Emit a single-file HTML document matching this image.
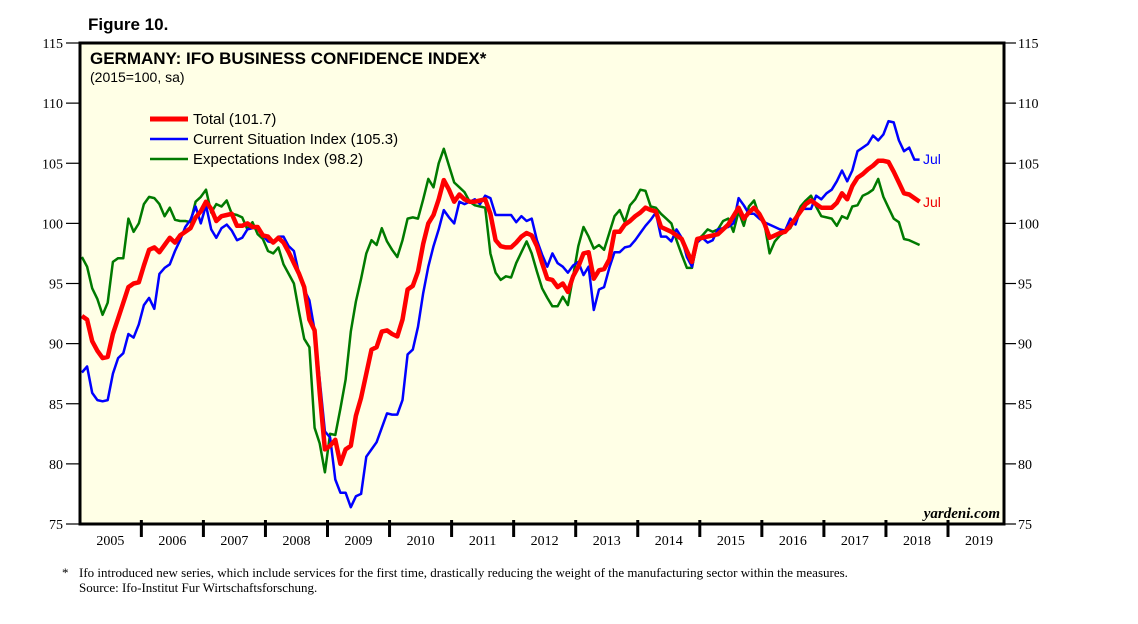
<!DOCTYPE html>
<html><head><meta charset="utf-8"><style>
body{margin:0;background:#fff;}
svg{display:block;}
</style></head><body>
<svg id="chart" width="1138" height="624" xmlns="http://www.w3.org/2000/svg">
<text x="88" y="30" font-family="Liberation Sans, sans-serif" font-weight="bold" font-size="17">Figure 10.</text>
<rect x="80" y="43" width="924" height="481" fill="#FFFFE6" stroke="none"/>
<g id="grid"></g>
<g id="series"></g>
<rect x="80" y="43" width="924" height="481" fill="none" stroke="#000" stroke-width="3"/>
<text x="90" y="64" font-family="Liberation Sans, sans-serif" font-weight="bold" font-size="17">GERMANY: IFO BUSINESS CONFIDENCE INDEX*</text>
<text x="90" y="82" font-family="Liberation Sans, sans-serif" font-size="14">(2015=100, sa)</text>
<g font-family="Liberation Sans, sans-serif" font-size="15">
<line x1="150" y1="119" x2="188" y2="119" stroke="#f00" stroke-width="5"/>
<text x="193" y="124">Total (101.7)</text>
<line x1="150" y1="139" x2="188" y2="139" stroke="#00f" stroke-width="2.5"/>
<text x="193" y="144">Current Situation Index (105.3)</text>
<line x1="150" y1="159" x2="188" y2="159" stroke="#007a00" stroke-width="2.5"/>
<text x="193" y="164">Expectations Index (98.2)</text>
</g>
<text x="923" y="164" fill="#00f" font-family="Liberation Sans, sans-serif" font-size="14">Jul</text>
<text x="923" y="207" fill="#e00" font-family="Liberation Sans, sans-serif" font-size="14">Jul</text>
<text x="1000" y="518" text-anchor="end" font-family="Liberation Serif, serif" font-style="italic" font-weight="bold" font-size="15">yardeni.com</text>
<text x="62" y="577" font-family="Liberation Serif, serif" font-size="13">*</text>
<text x="79" y="577" font-family="Liberation Serif, serif" font-size="13">Ifo introduced new series, which include services for the first time, drastically reducing the weight of the manufacturing sector within the measures.</text>
<text x="79" y="592" font-family="Liberation Serif, serif" font-size="13">Source: Ifo-Institut Fur Wirtschaftsforschung.</text>
</svg>
<script>
const yTicks=[75,80,85,90,95,100,105,110,115];
const years=[2005,2006,2007,2008,2009,2010,2011,2012,2013,2014,2015,2016,2017,2018,2019];
const total=[92.3,92.0,90.2,89.4,88.8,88.9,90.8,92.1,93.4,94.7,95.0,95.1,
96.5,97.8,98.0,97.6,98.2,98.8,98.4,99.0,99.3,99.6,100.5,101.0,
101.8,101.2,100.2,100.6,100.7,100.8,99.8,99.8,100.0,99.7,99.7,99.0,
98.9,98.4,98.8,98.4,97.6,96.7,95.8,94.7,92.0,91.1,85.9,81.2,
81.5,82.0,80.0,81.2,81.5,84.0,85.5,87.5,89.5,89.7,91.0,91.1,
90.8,90.6,92.0,94.5,94.8,96.0,98.3,100.0,100.7,102.0,103.6,102.8,
101.8,102.4,102.0,101.8,101.8,101.9,102.0,100.8,98.6,98.1,98.0,98.0,
98.4,98.9,99.2,99.0,98.1,96.7,95.4,95.3,94.7,95.0,94.3,95.6,
96.4,97.5,97.6,95.4,96.1,96.2,97.0,99.3,99.3,99.9,100.2,100.6,
100.9,101.3,101.1,101.0,99.7,99.5,99.3,99.0,98.7,97.7,96.8,98.7,
98.8,98.9,99.0,99.1,99.5,99.9,100.6,101.3,100.4,100.9,101.3,100.8,
100.0,98.8,99.0,99.2,99.3,99.8,100.4,101.0,101.6,101.9,101.6,101.3,
101.3,101.3,101.7,102.5,102.0,103.1,103.8,104.1,104.5,104.8,105.2,105.2,
105.1,104.3,103.4,102.5,102.4,102.1,101.8];
const current=[87.6,88.1,85.9,85.3,85.2,85.3,87.5,88.8,89.2,90.8,90.5,91.6,
93.2,93.8,92.9,95.8,96.3,96.6,97.7,98.6,99.7,100.3,101.4,100.0,
101.5,99.5,98.8,99.6,99.9,99.4,98.6,98.8,99.5,99.6,99.7,99.0,
98.5,98.4,98.9,98.9,98.1,97.7,95.8,94.5,93.6,91.1,87.0,82.7,
82.2,78.7,77.6,77.6,76.4,77.3,77.5,80.6,81.2,81.8,83.0,84.2,
84.1,84.1,85.3,89.1,89.5,91.4,94.2,96.4,98.1,99.5,101.1,100.5,
100.0,101.8,101.6,101.8,102.0,101.6,102.3,102.1,100.7,100.7,100.7,100.7,
100.1,100.6,100.2,100.4,98.6,97.4,96.4,97.5,96.7,96.4,95.9,96.5,
96.8,95.7,96.4,92.8,94.5,94.7,96.3,97.6,97.6,98.0,98.1,98.6,
99.2,99.8,100.3,100.9,98.9,98.9,98.5,99.5,98.8,97.2,96.4,98.4,
98.8,98.4,98.6,99.5,99.6,99.7,100.0,102.1,101.5,100.8,100.8,100.4,
100.1,99.9,99.7,99.5,99.4,100.4,99.9,101.2,101.2,101.2,102.3,102.0,
102.5,102.8,103.5,104.4,103.5,104.4,106.0,106.3,106.6,107.3,106.9,107.4,
108.5,108.4,106.9,106.0,106.3,105.3,105.3];
const expectations=[97.2,96.4,94.6,93.7,92.4,93.4,96.8,97.1,97.1,100.4,99.3,100.0,
101.6,102.2,102.1,101.6,100.6,101.3,100.3,100.2,100.2,100.1,101.8,102.2,
102.8,100.9,101.6,101.4,101.9,100.8,100.7,100.5,99.5,100.1,99.1,98.7,
97.7,97.5,98.0,96.6,95.8,95.0,92.6,90.4,89.7,83.0,81.7,79.3,
82.5,82.4,84.6,87.0,91.0,93.5,95.4,97.5,98.6,98.2,99.6,98.5,
97.8,97.2,98.6,100.4,100.5,100.4,102.0,103.7,103.0,105.0,106.2,104.8,
103.4,103.0,102.6,101.8,101.5,101.4,101.3,97.5,95.9,95.3,95.6,95.5,
96.7,97.6,98.5,97.5,96.0,94.6,93.8,93.1,93.1,93.9,93.2,95.6,
98.1,99.7,98.9,97.9,98.2,97.8,99.2,100.6,101.1,100.1,101.5,102.0,
102.8,102.7,101.4,101.3,100.8,100.4,100.0,98.6,97.4,96.3,96.3,98.6,
99.0,99.5,99.3,99.5,100.2,100.4,99.3,101.0,99.8,101.4,101.9,100.6,
100.0,97.5,98.5,99.0,99.3,99.6,100.5,101.4,101.9,102.3,101.4,100.6,
100.5,100.4,99.8,100.6,100.4,101.4,101.5,102.3,102.5,102.8,103.7,102.2,
101.3,100.4,100.1,98.7,98.6,98.4,98.2];

const NS='http://www.w3.org/2000/svg';
const X0=79.3, YW=62.05, YTOP=43, YBOT=524;
function yScale(v){return YBOT-(v-75)/(115-75)*(YBOT-YTOP);}
function xScale(m){return X0+(m+0.5)*YW/12;}
const svg=document.getElementById('chart');
function mk(tag,attrs,parent){const e=document.createElementNS(NS,tag);for(const k in attrs)e.setAttribute(k,attrs[k]);(parent||svg).appendChild(e);return e;}
yTicks.forEach(t=>{
  const y=yScale(t);
  const l1=mk('line',{x1:66,x2:80,y1:y,y2:y,stroke:'#000','stroke-width':1.2});
  
  
  const l2=mk('line',{x1:1004,x2:1016,y1:y,y2:y,stroke:'#000','stroke-width':1.2});
  
  
  const a=mk('text',{x:63,y:y+5,'text-anchor':'end','font-family':'Liberation Serif, serif','font-size':14});
  a.textContent=t;
  
  
  const b=mk('text',{x:1018,y:y+5,'font-family':'Liberation Serif, serif','font-size':14});
  b.textContent=t;
  
  
});
years.forEach((yr,i)=>{
  const x=X0+i*YW;
  if(i>0){const t=mk('line',{x1:x,x2:x,y1:520,y2:537,stroke:'#000','stroke-width':3});
  
  }
  const lab=mk('text',{x:x+YW/2,y:545,'text-anchor':'middle','font-family':'Liberation Serif, serif','font-size':14});
  lab.textContent=yr;
  
  
});
const sg=document.getElementById('series');
function line(data,color,w,name){
  const d=data.map((v,i)=>(i?'L':'M')+xScale(i).toFixed(1)+','+yScale(v).toFixed(1)).join('');
  const p=mk('path',{d:d,fill:'none',stroke:color,'stroke-width':w,'stroke-linejoin':'round'},sg);
  
  
}
line(expectations,'#007a00',2.5,'expectations-line');
line(current,'#0000ff',2.5,'current-situation-line');
line(total,'#ff0000',4.5,'total-line');
</script>
</body></html>
